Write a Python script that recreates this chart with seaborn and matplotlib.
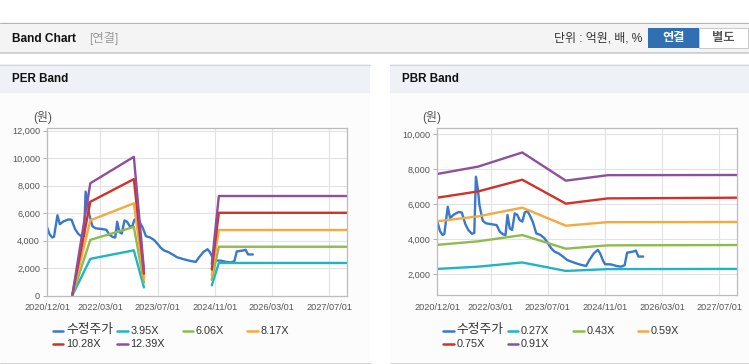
import numpy as np
import pandas as pd
import matplotlib
matplotlib.use("Agg")
import matplotlib.pyplot as plt
import seaborn as sns
from matplotlib.patches import Rectangle
from matplotlib.lines import Line2D

# ---------------- data ----------------
PRICE_LABEL = "수정주가"
PRICE_DATES = [
    "2020-12-01", "2020-12-24", "2021-01-15", "2021-01-30", "2021-02-28", "2021-03-20",
    "2021-04-20", "2021-06-01", "2021-06-28", "2021-07-28", "2021-08-22", "2021-09-22",
    "2021-10-12", "2021-10-26", "2021-11-12", "2021-11-25", "2021-12-23", "2022-01-20",
    "2022-03-10", "2022-04-20", "2022-05-18", "2022-06-15", "2022-07-05", "2022-07-22",
    "2022-08-10", "2022-08-30", "2022-09-22", "2022-10-14", "2022-11-03", "2022-11-26",
    "2022-12-16", "2023-01-07", "2023-01-27", "2023-02-24", "2023-03-24", "2023-04-30",
    "2023-06-03", "2023-07-02", "2023-07-30", "2023-08-27", "2023-09-30", "2023-11-06",
    "2023-12-13", "2024-01-16", "2024-02-27", "2024-04-10", "2024-05-22", "2024-06-19",
    "2024-07-26", "2024-08-30", "2024-09-18", "2024-10-14", "2024-10-30", "2024-12-20",
    "2025-02-10", "2025-03-15", "2025-04-15", "2025-05-06", "2025-06-24", "2025-07-20",
    "2025-08-10", "2025-09-20",
]
PRICE = [
    5000, 4450, 4230, 4300, 5850, 5200,
    5400, 5550, 5520, 4850, 4520, 4300,
    4350, 7570, 6850, 5950, 5050, 4900,
    4850, 4800, 4420, 4270, 4230, 5380,
    4620, 4520, 5470, 5380, 5090, 5000,
    5530, 5600, 5380, 4960, 4330, 4230,
    4040, 3760, 3470, 3280, 3180, 3000,
    2800, 2710, 2610, 2520, 2460, 2800,
    3180, 3380, 3180, 2750, 2560, 2550,
    2450, 2420, 2500, 3220, 3280, 3340,
    3000, 3000,
]

PER_BAND_DATES = ["2021-07-05", "2021-12-05", "2022-12-11", "2023-03-07",
                  "2024-10-05", "2024-12-04", "2027-12-01"]
PER_BAND_SEG = [0, 0, 0, 0, 1, 1, 1]
PER_LABELS = ["3.95X", "6.06X", "8.17X", "10.28X", "12.39X"]
PER_395 = [20, 2680, 3300, 600, 750, 2380, 2380]
PER_606 = [30, 4060, 5000, 950, 1150, 3560, 3560]
PER_817 = [40, 5480, 6720, 1250, 1500, 4780, 4780]
PER_1028 = [50, 6830, 8480, 1600, 1900, 6030, 6030]
PER_1239 = [60, 8180, 10100, 1900, 2300, 7250, 7250]

PBR_BAND_DATES = ["2020-12-01", "2021-11-14", "2022-11-25", "2023-12-01",
                  "2024-11-23", "2027-12-01"]
PBR_LABELS = ["0.27X", "0.43X", "0.59X", "0.75X", "0.91X"]
PBR_027 = [2290, 2420, 2660, 2175, 2280, 2290]
PBR_043 = [3670, 3870, 4230, 3450, 3640, 3660]
PBR_059 = [5020, 5300, 5800, 4765, 4970, 4980]
PBR_075 = [6370, 6730, 7400, 6030, 6330, 6370]
PBR_091 = [7730, 8150, 8960, 7345, 7660, 7670]

X_TICKS = ["2020/12/01", "2022/03/01", "2023/07/01", "2024/11/01", "2026/03/01", "2027/07/01"]
X_START, X_END = "2020-12-01", "2027-12-01"
PER_Y_TICKS = [0, 2000, 4000, 6000, 8000, 10000, 12000]
PBR_Y_TICKS = [2000, 4000, 6000, 8000, 10000]

PRICE_COLOR = "#3a78cc"
BAND_COLORS = ["#1fb4c6", "#8fbb4e", "#f5a93e", "#d4302a", "#8e4f9e"]

# ---------------- style ----------------
sns.set_theme(style="white")
plt.rcParams["font.family"] = ["Liberation Sans", "Noto Sans CJK KR", "DejaVu Sans"]

W, H = 749, 364
fig = plt.figure(figsize=(W / 100, H / 100), dpi=100)
fig.patch.set_facecolor("white")


def fx(x):
    return x / W


def fy(y):
    return 1 - y / H


def rect(x0, y0, x1, y1, fc, z=-5, ec="none", lw=0):
    r = Rectangle((fx(x0), fy(y1)), fx(x1) - fx(x0), fy(y0) - fy(y1),
                  transform=fig.transFigure, facecolor=fc, edgecolor=ec,
                  linewidth=lw, zorder=z)
    fig.add_artist(r)


def hline(x0, x1, y, color, lw=1.0, z=-4):
    fig.add_artist(Line2D([fx(x0), fx(x1)], [fy(y), fy(y)], transform=fig.transFigure,
                          color=color, lw=lw * 0.72, zorder=z))


# header bar
rect(0, 22, 749, 53, "#f4f4f4")
hline(0, 749, 22.5, "#b5b5b5")
hline(0, 749, 53, "#c6c6c6", lw=1.5)
fig.text(fx(12), fy(38.5), "Band Chart", fontsize=8.6, fontweight="bold",
         color="#111111", va="center", ha="left")
fig.text(fx(89), fy(38.5), "[연결]", fontsize=8.8, color="#999999", va="center", ha="left")
fig.text(fx(642), fy(38.5), "단위 : 억원, 배, %", fontsize=8.6, color="#333333",
         va="center", ha="right")
rect(648, 28, 699, 48, "#2f6fb2", z=-3)
rect(699, 28, 748, 48, "white", z=-3, ec="#c8c8c8", lw=0.7)
fig.text(fx(673.5), fy(38.3), "연결", fontsize=8.8, fontweight="bold", color="white",
         va="center", ha="center")
fig.text(fx(723.5), fy(38.3), "별도", fontsize=8.8, fontweight="bold", color="#555555",
         va="center", ha="center")

# panels
for (px0, px1, title) in [(0, 370, "PER Band"), (390, 749, "PBR Band")]:
    rect(px0, 64, px1, 93, "#eef1f6")
    rect(px0, 93, px1, 362, "#fcfcfc")
    hline(px0, px1, 64.5, "#d2d2d2")
    hline(px0, px1, 362.5, "#d2d2d2")
    fig.text(fx(px0 + 12), fy(79.5), title, fontsize=8.4, fontweight="bold",
             color="#111111", va="center", ha="left")


def band_frame(dates, seg, labels, arrays):
    rows = []
    for lab, vals in zip(labels, arrays):
        rows.append(pd.DataFrame({"date": pd.to_datetime(dates), "value": vals,
                                  "series": lab, "seg": seg}))
    return rows


price_df = pd.DataFrame({"date": pd.to_datetime(PRICE_DATES), "value": PRICE,
                         "series": PRICE_LABEL, "seg": 0})

per_df = pd.concat([price_df] + band_frame(PER_BAND_DATES, PER_BAND_SEG, PER_LABELS,
                                           [PER_395, PER_606, PER_817, PER_1028, PER_1239]),
                   ignore_index=True)
pbr_df = pd.concat([price_df] + band_frame(PBR_BAND_DATES, [0] * len(PBR_BAND_DATES),
                                           PBR_LABELS,
                                           [PBR_027, PBR_043, PBR_059, PBR_075, PBR_091]),
                   ignore_index=True)


def draw(ax, df, labels, yticks, ylim):
    order = [PRICE_LABEL] + labels
    pal = dict(zip(order, [PRICE_COLOR] + BAND_COLORS))
    sns.lineplot(data=df, x="date", y="value", hue="series", hue_order=order,
                 units="seg", estimator=None, palette=pal, linewidth=1.7,
                 legend=False, ax=ax)
    ax.set_facecolor("white")
    ax.set_xlim(pd.Timestamp(X_START), pd.Timestamp(X_END))
    ax.set_ylim(*ylim)
    xt = pd.to_datetime(X_TICKS, format="%Y/%m/%d")
    ax.set_xticks(xt)
    ax.set_xticklabels(X_TICKS)
    ax.set_yticks(yticks)
    ax.set_yticklabels([f"{v:,}" for v in yticks])
    ax.set_xlabel("")
    ax.set_ylabel("")
    ax.grid(True, color="#e2e2e2", linewidth=0.8)
    ax.set_axisbelow(True)
    for s in ax.spines.values():
        s.set_visible(True)
        s.set_color("#bcbcbc")
        s.set_linewidth(0.9)
    ax.tick_params(axis="y", length=3, width=0.7, color="#b0b0b0", pad=2,
                   labelsize=6.6, labelcolor="#555555", left=True)
    ax.tick_params(axis="x", length=0, pad=5.5, labelsize=6.6, labelcolor="#555555")


ax1 = fig.add_axes([fx(47), fy(295.7), 300 / W, (295.7 - 128.3) / H])
draw(ax1, per_df, PER_LABELS, PER_Y_TICKS, (0, 12175))
ax2 = fig.add_axes([fx(437.3), fy(295), 300 / W, (295 - 128.3) / H])
draw(ax2, pbr_df, PBR_LABELS, PBR_Y_TICKS, (797, 10344))

# unit labels
fig.text(fx(43), fy(118), "(원)", fontsize=8.6, color="#555555", ha="center", va="center")
fig.text(fx(432), fy(118), "(원)", fontsize=8.6, color="#555555", ha="center", va="center")


# legends
def legend(x_left, labels):
    items = [PRICE_LABEL] + labels
    colors = [PRICE_COLOR] + BAND_COLORS
    cols = [5.7, 70.3, 135.7, 200.3]
    for i, (lab, col) in enumerate(zip(items, colors)):
        r, c = divmod(i, 4)
        x = x_left + cols[c]
        y = 330.5 + r * 13.5
        fig.add_artist(Line2D([fx(x), fx(x + 10.5)], [fy(y), fy(y)],
                              transform=fig.transFigure, color=col, lw=1.8))
        size = 9.2 if lab == PRICE_LABEL else 7.8
        fig.text(fx(x + 13.3), fy(y), lab, fontsize=size, color="#333333",
                 ha="left", va="center")


legend(47, PER_LABELS)
legend(437.3, PBR_LABELS)

fig.savefig("out.png", dpi=100, facecolor="white")
